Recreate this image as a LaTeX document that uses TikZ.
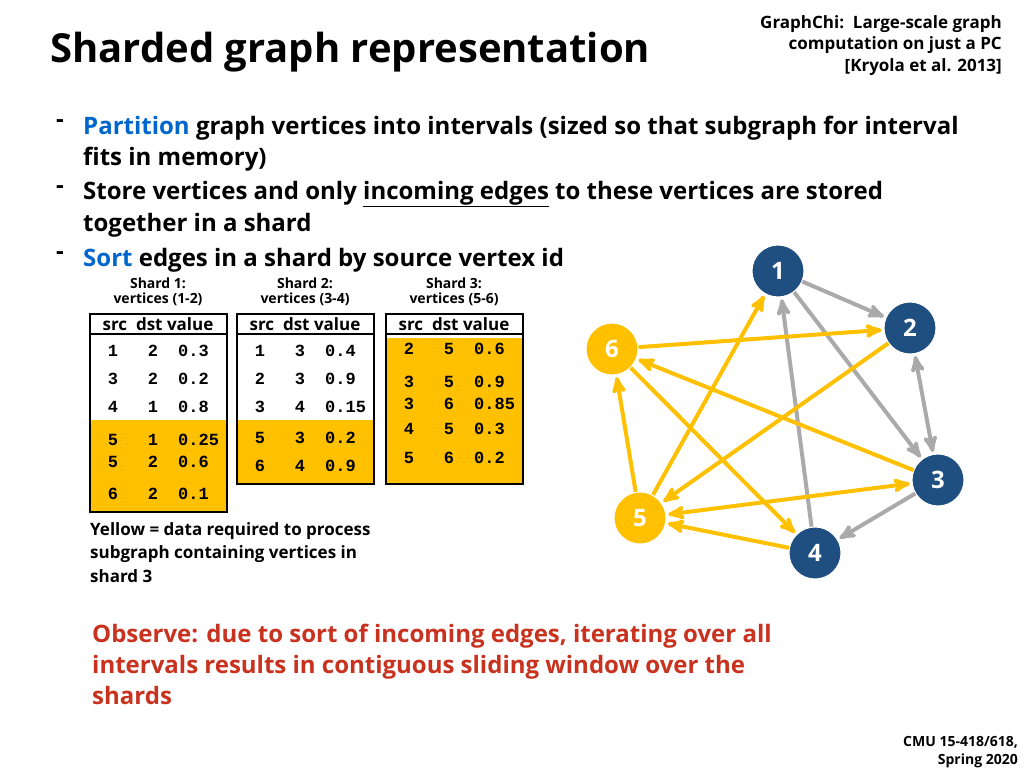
\documentclass[tikz,border=0pt]{standalone}
\usepackage{fontspec}
\setmainfont{Open Sans}
\setmonofont{Liberation Mono}
\usepackage{tikz}
\usetikzlibrary{arrows}
\definecolor{vblue}{RGB}{31,78,128}
\definecolor{vyellow}{RGB}{255,192,0}
\definecolor{egray}{RGB}{170,170,170}
\definecolor{kwblue}{RGB}{0,102,204}
\definecolor{obsred}{RGB}{200,50,30}

\newcommand{\shard}[5]{% x, bottom, yellow top, name, vertices
  \fill[vyellow] (#1,#3) rectangle (#1+137,#2);
  \draw[line width=2.5pt] (#1,314) rectangle (#1+137,#2);
  \draw[line width=2.5pt] (#1,334) -- (#1+137,334);
  \node[hdr] at (#1+68,324) {src\ \ dst value};
  \node[shd] at (#1+68,283) {#4};
  \node[shd] at (#1+68,299) {#5};
}

\begin{document}
\begin{tikzpicture}[x=1pt,y=-1pt,>=stealth',font=\bfseries]

	\tikzstyle{vtx}  = [circle, fill=vblue, draw=white, line width=1pt, minimum size=52pt, inner sep=0pt, text=white, font=\bfseries\fontsize{24}{24}\selectfont]
	\tikzstyle{act vtx} = [vtx, fill=vyellow]
	\tikzstyle{gedge} = [->, line width=4pt, draw=egray, shorten >=2pt]
	\tikzstyle{yedge} = [->, line width=4pt, draw=vyellow, shorten >=2pt]
	\tikzstyle{txt}  = [anchor=west, inner sep=0pt, font=\bfseries\fontsize{24}{24}\selectfont]
	\tikzstyle{hdr}  = [inner sep=0pt, font=\bfseries\fontsize{17}{17}\selectfont]
	\tikzstyle{shd}  = [inner sep=0pt, font=\bfseries\fontsize{14}{14}\selectfont]
	\tikzstyle{cell} = [inner sep=0pt, font=\ttfamily\bfseries\fontsize{17}{17}\selectfont]

	\useasboundingbox (0,0) rectangle (1024,768);

	% title and reference
	\node[anchor=west, inner sep=0pt, font=\bfseries\fontsize{40}{40}\selectfont] (title) at (50,52) {Sharded graph representation};
	\node[anchor=north east, align=right, inner sep=0pt, font=\bfseries\fontsize{17}{21.5}\selectfont] (ref) at (1002,15)
		{GraphChi:\ \ Large-scale graph\\computation on just a PC\\{[Kryola et al. 2013]}};

	% bullets
	\foreach \y in {128,194,260} \node[txt, anchor=center] at (60,\y-4) {-};
	\node[txt] (b1) at (83,128) {\textcolor{kwblue}{Partition} graph vertices into intervals (sized so that subgraph for interval};
	\node[txt] (b1b) at (83,159) {fits in memory)};
	\node[txt] (b2) at (83,194) {Store vertices and only \underline{incoming edges} to these vertices are stored};
	\node[txt] (b2b) at (83,225) {together in a shard};
	\node[txt] (b3) at (83,260) {\textcolor{kwblue}{Sort} edges in a shard by source vertex id};

	% shards
	\shard{90}{512}{420}{Shard 1:}{vertices (1-2)}
	\shard{237}{484}{420}{Shard 2:}{vertices (3-4)}
	\shard{386}{484}{338}{Shard 3:}{vertices (5-6)}
	\foreach \y/\s/\d/\v in {351/1/2/0.3, 379/3/2/0.2, 407/4/1/0.8, 440/5/1/0.25, 462/5/2/0.6, 494/6/2/0.1}{
		\node[cell] at (113,\y) {\s};
		\node[cell] at (153,\y) {\d};
		\node[cell, anchor=west] at (178,\y) {\v};
	}
	\foreach \y/\s/\d/\v in {351/1/3/0.4, 379/2/3/0.9, 407/3/4/0.15, 438/5/3/0.2, 466/6/4/0.9}{
		\node[cell] at (260,\y) {\s};
		\node[cell] at (300,\y) {\d};
		\node[cell, anchor=west] at (325,\y) {\v};
	}
	\foreach \y/\s/\d/\v in {349/2/5/0.6, 382/3/5/0.9, 404/3/6/0.85, 429/4/5/0.3, 458/5/6/0.2}{
		\node[cell] at (409,\y) {\s};
		\node[cell] at (449,\y) {\d};
		\node[cell, anchor=west] at (474,\y) {\v};
	}

	\node[anchor=north west, align=left, inner sep=0pt, font=\bfseries\fontsize{17}{23.5}\selectfont] (note) at (90,522)
		{Yellow = data required to process\\subgraph containing vertices in\\shard 3};

	% graph
	\node[vtx] (v1) at (778,271) {1};
	\node[vtx] (v2) at (910,328) {2};
	\node[vtx] (v3) at (938,480) {3};
	\node[vtx] (v4) at (815,553) {4};
	\node[act vtx] (v5) at (640,518) {5};
	\node[act vtx] (v6) at (612,349) {6};

	\draw[gedge] (v1) -- (v2);
	\draw[gedge] (v1) -- (v3);
	\draw[gedge] (v4) -- (v1);
	\draw[gedge, <->, shorten <=2pt] (v2) -- (v3);
	\draw[gedge] (v3) -- (v4);
	\draw[yedge] (v5) -- (v1);
	\draw[yedge] (v6) -- (v2);
	\draw[yedge] (v2) -- (v5);
	\draw[yedge] (v3) -- (v6);
	\draw[yedge] (v6) -- (v4);
	\draw[yedge, <->, shorten <=2pt] (v5) -- (v3);
	\draw[yedge] (v4) -- (v5);
	\draw[yedge] (v5) -- (v6);

	% observation
	\node[anchor=north west, align=left, inner sep=0pt, text=obsred, font=\bfseries\fontsize{24}{31}\selectfont] (obs) at (92,624)
		{Observe: due to sort of incoming edges, iterating over all\\intervals results in contiguous sliding window over the\\shards};

	\node[anchor=north east, align=right, inner sep=0pt, font=\bfseries\fontsize{14}{18}\selectfont] (foot) at (1018,736)
		{CMU 15-418/618,\\Spring 2020};
\end{tikzpicture}
\end{document}
